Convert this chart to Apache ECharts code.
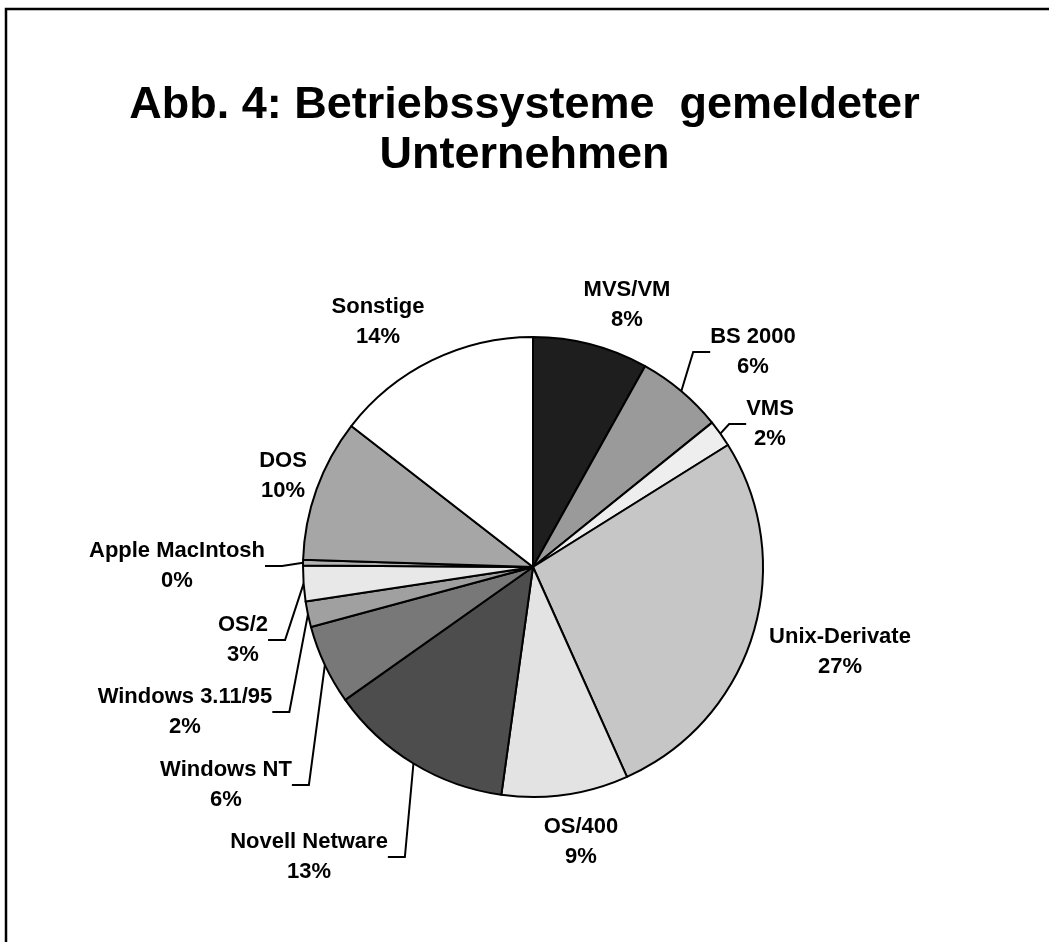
<!DOCTYPE html>
<html>
<head>
<meta charset="utf-8">
<script src="https://cdn.jsdelivr.net/npm/echarts@6/dist/echarts.min.js"></script>
<style>
    html, body { margin: 0; padding: 0; background: #fff; }
    #pie-chart { width: 1049px; height: 942px; }
</style>
</head>
<body>
<div id="pie-chart"></div>
<script>
    // Betriebssysteme, im Uhrzeigersinn ab 12 Uhr
    let categories = ['MVS/VM', 'BS 2000', 'VMS', 'Unix-Derivate', 'OS/400', 'Novell Netware',
        'Windows NT', 'Windows 3.11/95', 'OS/2', 'Apple MacIntosh', 'DOS', 'Sonstige'];
    let values = [8.1, 6.1, 1.9, 27.2, 8.9, 13.0, 5.6, 1.8, 2.5, 0.4, 10.0, 14.5];
    let percentLabels = ['8%', '6%', '2%', '27%', '9%', '13%', '6%', '2%', '3%', '0%', '10%', '14%'];

    // styles
    let grays = ['#1e1e1e', '#9a9a9a', '#eeeeee', '#c6c6c6', '#e3e3e3', '#4d4d4d',
        '#787878', '#a0a0a0', '#e8e8e8', '#b4b4b4', '#a6a6a6', '#ffffff'];
    let hasLeader = [false, true, true, false, false, true, true, true, true, true, false, false];
    let labelPos = [[627, 305], [753, 352], [770, 424], [840, 652], [581, 842], [309, 857],
        [226, 785], [185, 712], [243, 640], [177, 566], [283, 476], [378, 322]];

    let font = "'Liberation Sans', Arial, Helvetica, sans-serif";
    let pieChart = echarts.init(document.getElementById('pie-chart'));

    let pieData = [];
    for (let i = 0; i < categories.length; i++) {
        pieData.push({
            name: categories[i],
            value: values[i],
            itemStyle: {color: grays[i]},
            labelLine: {show: hasLeader[i]}
        });
    }

    let pieOptions = {
        backgroundColor: '#fff',
        animation: false,
        title: {
            text: 'Abb. 4: Betriebssysteme  gemeldeter\nUnternehmen',
            left: 'center',
            top: 76,
            textStyle: {
                fontFamily: font,
                fontSize: 45,
                fontWeight: 'bold',
                color: '#000',
                lineHeight: 50
            }
        },
        graphic: [{ // Rahmen
            type: 'rect',
            shape: {x: 6, y: 9, width: 1100, height: 1000},
            style: {fill: 'none', stroke: '#000', lineWidth: 2.5}
        }],
        series: [{
            type: 'pie',
            center: [533, 567],
            radius: 230,
            startAngle: 90,
            clockwise: true,
            avoidLabelOverlap: false,
            data: pieData,
            itemStyle: {
                borderColor: '#000',
                borderWidth: 2
            },
            label: {
                show: true,
                position: 'outside',
                fontFamily: font,
                fontSize: 22,
                fontWeight: 'bold',
                color: '#000',
                lineHeight: 30,
                align: 'center',
                formatter: function (p) {
                    return p.name + '\n' + percentLabels[p.dataIndex];
                }
            },
            labelLine: {
                length: 10,
                length2: 17,
                lineStyle: {color: '#000', width: 2}
            },
            labelLayout: function (params) {
                let p = labelPos[params.dataIndex];
                return {x: p[0], y: p[1], align: 'center', verticalAlign: 'middle'};
            },
            emphasis: {disabled: true}
        }]
    };
    pieChart.setOption(pieOptions);
</script>
</body>
</html>
